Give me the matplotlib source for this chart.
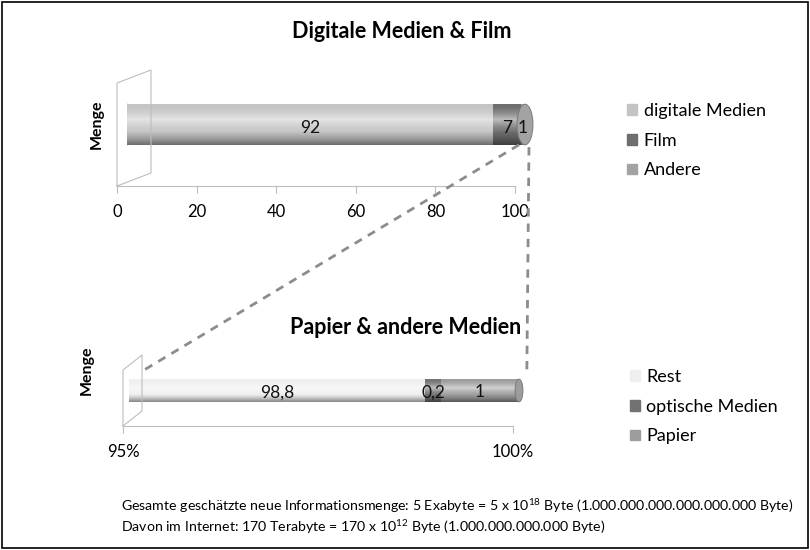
import numpy as np
import matplotlib
matplotlib.use('Agg')
from matplotlib import pyplot as plt
from matplotlib.patches import Ellipse, Rectangle
from matplotlib.lines import Line2D

plt.rcParams['font.family'] = ['Lato', 'DejaVu Sans']
plt.rcParams['mathtext.fontset'] = 'custom'
plt.rcParams['mathtext.rm'] = 'Lato'

# data
top_labels = ['digitale Medien', 'Film', 'Andere']
top_values = [92, 7, 1]
top_colors = ['#c4c4c4', '#6e6e6e', '#a3a3a3']

bot_labels = ['Rest', 'optische Medien', 'Papier']
bot_values = [98.8, 0.2, 1]
bot_colors = ['#efefef', '#727272', '#9d9d9d']

top_ticks = [0, 20, 40, 60, 80, 100]
bot_ticks = [95, 100]
bot_ticklabels = ['95%', '100%']

footer = ['Gesamte geschätzte neue Informationsmenge: 5 Exabyte = 5 x 10$^{18}$ Byte (1.000.000.000.000.000.000 Byte)',
          'Davon im Internet: 170 Terabyte = 170 x 10$^{12}$ Byte (1.000.000.000.000 Byte)']

W, H = 810, 550
fig = plt.figure(figsize=(W / 100, H / 100), dpi=100)


def px(x, y, w, h):
    # pixel box (top-left origin) -> figure fraction
    return [x / W, 1 - (y + h) / H, w / W, h / H]


def shade():
    t = np.linspace(0, 1, 200)
    a = np.zeros((200, 1, 4))
    hi = np.clip(1 - np.abs(t - 0.62) / 0.35, 0, 1) ** 1.5
    lo = np.clip((0.35 - t) / 0.35, 0, 1) ** 1.3
    a[:, 0, :3] = np.where(hi[:, None] > lo[:, None], 1.0, 0.0)
    a[:, 0, 3] = np.maximum(hi * 0.55, lo * 0.45)
    return a


def cyl_bar(ax, values, colors, xmin, cap_w, bh, fmt):
    lefts = np.concatenate([[0], np.cumsum(values)[:-1]])
    total = sum(values)
    ax.add_patch(Ellipse((max(0, xmin), 0), cap_w, bh, color=colors[0], zorder=1))
    bars = ax.barh(0, values, left=lefts, height=bh, color=colors, zorder=2)
    ax.imshow(shade(), extent=(0, total, -bh / 2, bh / 2), aspect='auto',
              origin='lower', zorder=3)
    cap = Ellipse((total, 0), cap_w, bh, facecolor=colors[-1], edgecolor='#7a7a7a',
                  lw=0.7, zorder=4, clip_on=False)
    ax.add_patch(cap)
    for l, v in zip(lefts, values):
        c = max(l, xmin) + (l + v - max(l, xmin)) / 2
        ax.text(c, -bh * 0.08, fmt(v), ha='center', va='center', fontsize=12.5,
                color='#111111', zorder=5)
    return bars


def tick_axes(rect, xlim, ticks, labels):
    ax = fig.add_axes(rect)
    ax.set_xlim(*xlim)
    ax.set_ylim(0, 1)
    for s in ['top', 'right', 'left']:
        ax.spines[s].set_visible(False)
    ax.spines['bottom'].set_color('#bdbdbd')
    ax.set_yticks([])
    ax.set_xticks(ticks)
    ax.set_xticklabels(labels, fontsize=12)
    ax.tick_params(axis='x', colors='#bdbdbd', length=5, labelcolor='black', pad=8)
    ax.patch.set_alpha(0)
    return ax


def wall(ax_rect, dx, dy, top_y):
    # 3d back wall of the depth axis, drawn in pixels
    x0 = ax_rect[0] * W
    y0 = (1 - ax_rect[1]) * H
    pts = [(x0, y0), (x0, top_y + dy), (x0 + dx, top_y), (x0 + dx, y0 - dy), (x0, y0)]
    xs = [p[0] / W for p in pts]
    ys = [1 - p[1] / H for p in pts]
    fig.add_artist(Line2D(xs, ys, color='#bdbdbd', lw=0.8))


def connect(axA, xyA, axB, xyB):
    inv = fig.transFigure.inverted()
    pa = inv.transform(axA.transData.transform(xyA))
    pb = inv.transform(axB.transData.transform(xyB))
    fig.add_artist(Line2D([pa[0], pb[0]], [pa[1], pb[1]], color='#8c8c8c', lw=2,
                          linestyle=(0, (3, 2.5))))


fmt = lambda v: ('%g' % v).replace('.', ',')

# top chart
r1 = px(117, 70, 398, 116)
ax1 = tick_axes(r1, (0, 100), top_ticks, [str(t) for t in top_ticks])
wall(r1, 34, 13, 70)
bh1 = 0.35
b1 = fig.add_axes(px(127, 70, 398, 116))
b1.set_xlim(0, 100)
b1.set_ylim(-0.53, 0.47)
b1.axis('off')
cyl_bar(b1, top_values, top_colors, 0, 4, bh1, fmt)
fig.text(402 / W, 1 - 32 / H, 'Digitale Medien & Film', ha='center', va='center',
         fontsize=15.5, fontweight='bold')
fig.text(97 / W, 1 - 124 / H, 'Menge', rotation=90, ha='center', va='center',
         fontsize=11.5, fontweight='bold')

# bottom chart
r2 = px(123, 355, 390, 71)
ax2 = tick_axes(r2, (95, 100), bot_ticks, bot_ticklabels)
wall(r2, 19, 15, 355)
bh2 = 0.32
b2 = fig.add_axes(px(129, 355, 390, 71))
b2.set_xlim(95, 100)
b2.set_ylim(-0.5, 0.5)
b2.axis('off')
cyl_bar(b2, bot_values, bot_colors, 95, 0.1, bh2, fmt)
fig.text(406 / W, 1 - 327 / H, 'Papier & andere Medien', ha='center', va='center',
         fontsize=15.5, fontweight='bold')
fig.text(87 / W, 1 - 370 / H, 'Menge', rotation=90, ha='center', va='center',
         fontsize=11.5, fontweight='bold')

# zoom connector lines
connect(b1, (98.5, -bh1 / 2), b2, (95.15, bh2 / 2 + 0.1))
connect(b1, (101, -bh1 / 2 - 0.02), b2, (100.1, bh2 / 2 + 0.05))

# legends
h1 = [Rectangle((0, 0), 1, 1, color=c) for c in top_colors]
fig.legend(h1, top_labels, loc='upper left', bbox_to_anchor=(611 / W, 1 - 87 / H),
           frameon=False, fontsize=13, handlelength=0.55, handleheight=0.55,
           handletextpad=0.35, labelspacing=0.75)
h2 = [Rectangle((0, 0), 1, 1, color=c) for c in bot_colors]
fig.legend(h2, bot_labels, loc='upper left', bbox_to_anchor=(614 / W, 1 - 353 / H),
           frameon=False, fontsize=13, handlelength=0.55, handleheight=0.55,
           handletextpad=0.35, labelspacing=0.75)

# footer
for i, line in enumerate(footer):
    fig.text(121 / W, 1 - (506 + 21 * i) / H, line, ha='left', va='center', fontsize=10.2)

fig.add_artist(Rectangle((0.002, 0.003), 0.996, 0.994, transform=fig.transFigure,
                         fill=False, edgecolor='black', lw=1.2))

fig.savefig('out.png', dpi=100)
